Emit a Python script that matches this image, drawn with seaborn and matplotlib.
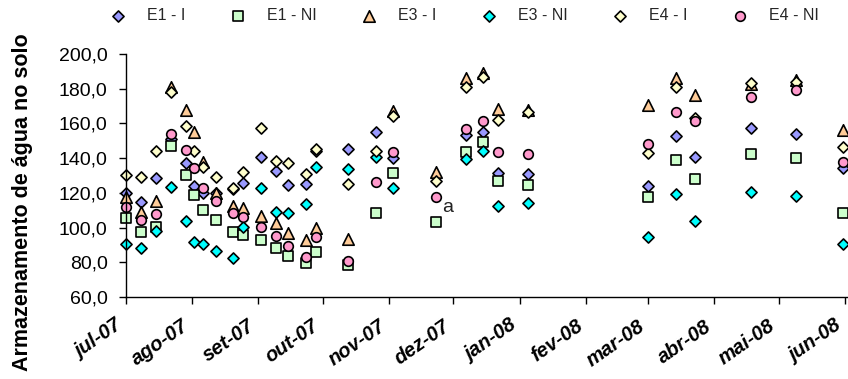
import numpy as np
import pandas as pd
import matplotlib
matplotlib.use("Agg")
import matplotlib.pyplot as plt
import seaborn as sns

# ---------------- data ----------------
dates = ["2007-07-01", "2007-07-08", "2007-07-15", "2007-07-22", "2007-07-29",
         "2007-08-02", "2007-08-06", "2007-08-12", "2007-08-20", "2007-08-25",
         "2007-09-02", "2007-09-09", "2007-09-15", "2007-09-23", "2007-09-28",
         "2007-10-13", "2007-10-26", "2007-11-03", "2007-11-23", "2007-12-07",
         "2007-12-15", "2007-12-22", "2008-01-05", "2008-03-01", "2008-03-14",
         "2008-03-23", "2008-04-18", "2008-05-09", "2008-05-31"]

e1_i = [119.7, 114.9, 128.4, 151.0, 137.0, 124.2, 119.7, 120.0, 122.0, 125.5,
        140.5, 132.6, 124.5, 124.9, 144.0, 145.3, 155.3, 140.3, np.nan, 153.3,
        155.3, 131.3, 130.7, 124.0, 153.0, 140.5, 157.6, 153.9, 134.1]
e1_ni = [105.3, 97.7, 100.2, 147.0, 130.3, 118.8, 110.1, 104.4, 97.7, 95.7,
         92.9, 88.4, 83.8, 79.4, 86.1, 78.5, 108.6, 131.3, 103.0, 143.7,
         149.1, 126.8, 124.5, 117.4, 138.9, 127.8, 142.4, 139.9, 108.6]
e3_i = [117.8, 109.2, 115.5, 181.2, 167.7, 155.3, 138.0, 120.2, 112.6, 111.1,
        106.7, 102.8, 96.7, 92.9, 99.6, 93.4, np.nan, 167.2, 132.2, 186.0,
        188.9, 168.3, 167.7, 170.6, 186.4, 176.4, 182.5, 185.0, 156.2]
e3_ni = [90.4, 88.1, 98.0, 123.6, 103.8, 91.5, 90.4, 86.5, 82.3, 100.5,
         122.6, 109.2, 108.2, 113.6, 134.7, 133.8, 140.9, 122.6, np.nan, 139.5,
         144.1, 112.6, 114.0, 94.8, 119.2, 103.8, 120.7, 118.2, 90.4]
e4_i = [130.3, 129.3, 144.1, 177.9, 158.7, 144.1, 135.1, 129.3, 122.6, 131.8,
        157.6, 138.4, 137.0, 130.7, 145.1, 124.9, 144.1, 164.3, 127.0, 180.8,
        186.9, 162.0, 166.4, 142.8, 180.8, 163.3, 183.1, 184.1, 146.2]
e4_ni = [112.1, 104.4, 107.6, 153.7, 144.7, 134.5, 123.0, 115.3, 108.6, 106.3,
         100.5, 95.2, 89.6, 82.9, 94.8, 80.8, 126.5, 143.4, 117.4, 156.8,
         161.4, 143.4, 142.4, 148.0, 166.8, 161.4, 175.0, 179.3, 138.0]

series_names = ["E1 - I", "E1 - NI", "E3 - I", "E3 - NI", "E4 - I", "E4 - NI"]
series_values = [e1_i, e1_ni, e3_i, e3_ni, e4_i, e4_ni]

month_ticks = ["2007-07-01", "2007-08-01", "2007-09-01", "2007-10-01", "2007-11-01",
               "2007-12-01", "2008-01-01", "2008-02-01", "2008-03-01", "2008-04-01",
               "2008-05-01", "2008-06-01"]
month_labels = ["jul-07", "ago-07", "set-07", "out-07", "nov-07", "dez-07",
                "jan-08", "fev-08", "mar-08", "abr-08", "mai-08", "jun-08"]
y_ticks = [60, 80, 100, 120, 140, 160, 180, 200]

annot_text = "a"
annot_date = "2007-11-23"
annot_value = 117.4

# ---------------- styling ----------------
markers = {"E1 - I": "D", "E1 - NI": "s", "E3 - I": "^",
           "E3 - NI": "D", "E4 - I": "D", "E4 - NI": "o"}
colors = {"E1 - I": "#9999FF", "E1 - NI": "#CCFFCC", "E3 - I": "#FFCC99",
          "E3 - NI": "#00FFFF", "E4 - I": "#FFFFCC", "E4 - NI": "#FF99CC"}
sizes = {"D": 32, "s": 48, "^": 68, "o": 48}

sns.set_theme(style="white")
plt.rcParams['font.family'] = ['Liberation Sans', 'DejaVu Sans']

df = pd.DataFrame({"date": pd.to_datetime(dates)})
for name, vals in zip(series_names, series_values):
    df[name] = vals
long = df.melt(id_vars="date", var_name="serie", value_name="valor").dropna()

W, H = 848, 379
fig = plt.figure(figsize=(W / 100, H / 100), dpi=100)
x0_px, xaxis_px, ytop_px = 125.7, 297.0, 54.0
day_px = 2.141
xmin = pd.Timestamp("2007-07-01")
xmax = pd.Timestamp("2008-06-16")
width_px = (xmax - xmin).days * day_px
ax = fig.add_axes([x0_px / W, (H - xaxis_px) / H, width_px / W, (xaxis_px - ytop_px) / H])

for name in series_names:
    sub = long[long["serie"] == name]
    m = markers[name]
    sns.scatterplot(data=sub, x="date", y="valor", marker=m, color=colors[name],
                    s=sizes[m], edgecolor="black", linewidth=1.2, ax=ax,
                    label=name, clip_on=False)

ax.set_xlim(xmin, xmax)
ax.set_ylim(60, 200)
ax.set_xticks(pd.to_datetime(month_ticks))
ax.set_xticklabels(month_labels, rotation=35, ha="right", va="top",
                   rotation_mode="default",
                   fontstyle="italic", fontweight="bold", fontsize=14.5)
ax.set_yticks(y_ticks)
ax.set_yticklabels([f"{v:.1f}".replace(".", ",") for v in y_ticks], fontsize=14)
ax.tick_params(axis="both", direction="out", length=5, width=1, color="black",
               colors="black", bottom=True, left=True)
ax.tick_params(axis="y", pad=8)
ax.tick_params(axis="x", pad=9)
for s in ["top", "right"]:
    ax.spines[s].set_visible(False)
for s in ["left", "bottom"]:
    ax.spines[s].set_color("black")
    ax.spines[s].set_linewidth(1.0)

ax.set_xlabel("")
ax.set_ylabel("Armazenamento de água no solo", fontweight="bold", fontsize=15.5,
              color="black")
ax.yaxis.set_label_coords(-0.124, 0.39)

ax.annotate(annot_text, xy=(pd.Timestamp(annot_date), annot_value),
            xytext=(4.5, -7.5), textcoords="offset points", ha="left", va="center",
            fontsize=14, color="#222222")

handles, labels = ax.get_legend_handles_labels()
ax.get_legend().remove()
fig.legend(handles, labels, loc="center left", bbox_to_anchor=(110 / W, 1 - 16 / H),
           ncol=6, frameon=False, fontsize=11.5, handlelength=1.0,
           handletextpad=1.3, columnspacing=2.8, borderaxespad=0, borderpad=0)

fig.savefig("out.png", dpi=100)
